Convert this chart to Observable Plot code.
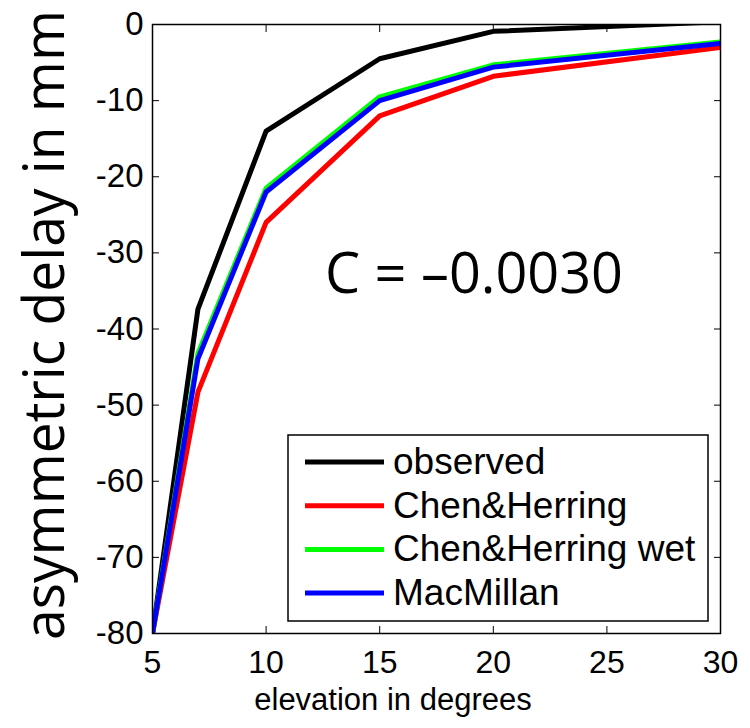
<!DOCTYPE html>
<html><head><meta charset="utf-8">
<script src="https://cdn.jsdelivr.net/npm/d3@7"></script>
<script src="https://cdn.jsdelivr.net/npm/@observablehq/plot@0.6"></script>
<style>body{margin:0;background:#fff}#chart{position:relative;width:750px;height:728px}</style>
</head><body><div id="chart"></div>
<script>
const elevation = [5, 7, 10, 15, 20, 30];
const observed = [-80, -37.4, -14, -4.5, -0.9, 0.35];
const chenHerring = [-80, -48.3, -26, -12, -6.8, -3.0];
const chenHerringWet = [-80, -43.2, -21.5, -9.5, -5.3, -2.3];
const macMillan = [-80, -43.9, -22, -10, -5.6, -2.5];
const seriesNames = ["observed", "Chen&Herring", "Chen&Herring wet", "MacMillan"];
const seriesColors = ["#000000", "#ff0000", "#00ff00", "#0000ff"];
const xTicks = [5, 10, 15, 20, 25, 30];
const yTicks = [0, -10, -20, -30, -40, -50, -60, -70, -80];
const xLabel = "elevation in degrees";
const yLabel = "asymmetric delay in mm";
const annotation = "C = \u20130.0030";

const seriesValues = [observed, chenHerring, chenHerringWet, macMillan];
const rows = [];
seriesNames.forEach((s, i) => elevation.forEach((e, j) => rows.push({series: s, elevation: e, delay: seriesValues[i][j]})));

const baseFont = "'Liberation Sans', Arial, Helvetica, sans-serif";
const chart = Plot.plot({
  width: 750, height: 728,
  marginLeft: 152, marginRight: 30, marginTop: 24, marginBottom: 95,
  style: {fontFamily: baseFont, background: "white", color: "black"},
  x: {domain: [5, 30]},
  y: {domain: [-80, 0]},
  color: {domain: seriesNames, range: seriesColors},
  marks: [
    Plot.line(rows, {x: "elevation", y: "delay", z: "series", stroke: "series", strokeWidth: 5, clip: true}),
    Plot.frame({stroke: "black", strokeWidth: 1.5}),
    Plot.axisX({ticks: xTicks, tickSize: -7, tickFormat: () => "", label: null, stroke: "black"}),
    Plot.axisX({ticks: xTicks, anchor: "top", tickSize: -7, tickFormat: () => "", label: null, stroke: "black"}),
    Plot.axisY({ticks: yTicks, tickSize: -7, tickFormat: () => "", label: null, stroke: "black"}),
    Plot.axisY({ticks: yTicks, anchor: "right", tickSize: -7, tickFormat: () => "", label: null, stroke: "black"}),
    Plot.axisX({ticks: xTicks, tickSize: 0, tickPadding: 17, fontSize: 32, tickFormat: d => String(d), label: null, fill: "black"}),
    Plot.axisY({ticks: yTicks, tickSize: 0, tickPadding: 9, fontSize: 33, tickFormat: d => String(d), label: null, fill: "black"})
  ]
});
document.getElementById("chart").appendChild(chart);

const svg = d3.select(chart);
// axis labels
svg.append("text").attr("x", 393).attr("y", 710).attr("text-anchor", "middle")
  .attr("font-family", baseFont).attr("font-size", 31).attr("fill", "black").text(xLabel);
svg.append("text").attr("transform", "translate(64,325) rotate(-90)").attr("text-anchor", "middle")
  .attr("font-family", "'Open Sans', 'Noto Sans', sans-serif").attr("font-size", 56).attr("fill", "black")
  .attr("textLength", 630).attr("lengthAdjust", "spacingAndGlyphs").text(yLabel);
// annotation
svg.append("text").attr("x", 325).attr("y", 293).attr("text-anchor", "start")
  .attr("font-family", "'Open Sans', 'Noto Sans', sans-serif").attr("font-size", 56).attr("fill", "black")
  .attr("textLength", 298).attr("lengthAdjust", "spacingAndGlyphs").text(annotation);
// legend
const lg = svg.append("g");
lg.append("rect").attr("x", 288).attr("y", 435).attr("width", 420).attr("height", 186)
  .attr("fill", "white").attr("stroke", "black").attr("stroke-width", 1.5);
seriesNames.forEach((s, i) => {
  const cy = 462 + i * 43.7;
  lg.append("line").attr("x1", 305).attr("x2", 384).attr("y1", cy).attr("y2", cy)
    .attr("stroke", seriesColors[i]).attr("stroke-width", 5);
  lg.append("text").attr("x", 393).attr("y", cy + 12).attr("text-anchor", "start").attr("font-family", baseFont)
    .attr("font-size", 37).attr("fill", "black").text(s);
});
</script></body></html>
